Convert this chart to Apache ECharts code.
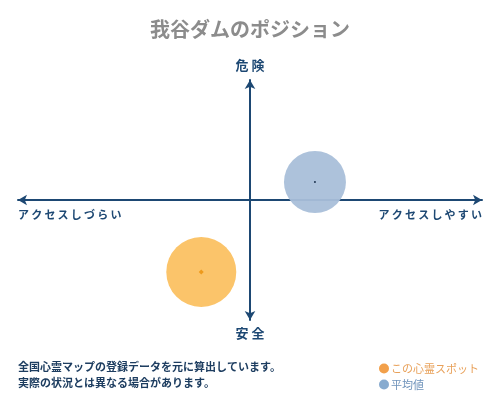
<!DOCTYPE html>
<html>
<head>
<meta charset="utf-8">
<script src="https://cdn.jsdelivr.net/npm/echarts@6/dist/echarts.min.js"></script>
<style>
html, body { margin: 0; padding: 0; background: #fff; }
#main { width: 500px; height: 400px; }
</style>
</head>
<body>
<div id="main"></div>
<script>
var chart = echarts.init(document.getElementById('main'));

// 横軸: アクセス(-100 しづらい … 100 しやすい), 縦軸: 危険度(-100 安全 … 100 危険)
var seriesNames = ['この心霊スポット', '平均値'];
var spotPoint = [[-21, -60]];
var averagePoint = [[28, 15]];
var xEndLabels = ['アクセスしづらい', 'アクセスしやすい'];
var yEndLabels = ['危険', '安全'];
var noteLines = ['全国心霊マップの登録データを元に算出しています。', '実際の状況とは異なる場合があります。'];

var FONT = '"Noto Sans CJK JP", sans-serif';
var NAVY = '#1d4873';

// 文字間を少し空ける
function spread(s, sp) {
    return s.split('').join(sp);
}

option = {
    title: {
        text: '我谷ダムのポジション',
        left: 'center',
        top: 14,
        textStyle: { color: '#8c8c8c', fontSize: 20, fontWeight: 'bold', fontFamily: FONT }
    },
    legend: {
        orient: 'vertical',
        left: 374,
        top: 358,
        itemWidth: 10,
        itemHeight: 10,
        itemGap: 5,
        icon: 'circle',
        data: [
            { name: seriesNames[0], itemStyle: { color: '#f2a04a' }, textStyle: { color: '#e8a15a' } },
            { name: seriesNames[1], itemStyle: { color: '#82a7cc' }, textStyle: { color: '#6f93bb' } }
        ],
        textStyle: { fontSize: 11, fontFamily: FONT, padding: [0, 0, 0, -3] }
    },
    grid: { left: 18, right: 18, top: 80, bottom: 80 },
    xAxis: {
        type: 'value',
        min: -100,
        max: 100,
        splitLine: { show: false },
        axisTick: { show: false },
        axisLabel: { show: false },
        axisLine: {
            onZero: true,
            symbol: ['arrow', 'arrow'],
            symbolSize: [8, 9],
            lineStyle: { color: NAVY, width: 2 }
        }
    },
    yAxis: {
        type: 'value',
        min: -100,
        max: 100,
        splitLine: { show: false },
        axisTick: { show: false },
        axisLabel: { show: false },
        axisLine: {
            onZero: true,
            symbol: ['arrow', 'arrow'],
            symbolSize: [8, 9],
            lineStyle: { color: NAVY, width: 2 }
        }
    },
    graphic: [
        {
            type: 'text', left: 'center', top: 59,
            style: { text: spread(yEndLabels[0], ' '), fill: NAVY, fontSize: 13, fontWeight: 'bold', fontFamily: FONT }
        },
        {
            type: 'text', left: 'center', top: 327,
            style: { text: spread(yEndLabels[1], ' '), fill: NAVY, fontSize: 13, fontWeight: 'bold', fontFamily: FONT }
        },
        {
            type: 'text', left: 18, top: 209,
            style: { text: spread(xEndLabels[0], '\u2009'), fill: NAVY, fontSize: 11, fontWeight: 'bold', fontFamily: FONT }
        },
        {
            type: 'text', right: 18, top: 209,
            style: { text: spread(xEndLabels[1], '\u2009'), fill: NAVY, fontSize: 11, fontWeight: 'bold', fontFamily: FONT }
        },
        {
            type: 'text', left: 18, top: 359,
            style: { text: noteLines.join('\n'), fill: '#1d3d60', fontSize: 11, lineHeight: 16, fontWeight: 'bold', fontFamily: FONT }
        }
    ],
    series: [
        {
            name: seriesNames[0],
            type: 'scatter',
            data: spotPoint,
            symbolSize: 70,
            itemStyle: { color: '#fbc46a', opacity: 1 },
            z: 3
        },
        {
            name: seriesNames[1],
            type: 'scatter',
            data: averagePoint,
            symbolSize: 62,
            itemStyle: { color: '#a9bfd9', opacity: 0.95 },
            z: 1
        },
        {
            name: 'spotCenter',
            type: 'scatter',
            data: spotPoint,
            symbolSize: 5,
            symbol: 'diamond',
            itemStyle: { color: '#ee9a1c', opacity: 1 },
            z: 4
        },
        {
            name: 'averageCenter',
            type: 'scatter',
            data: averagePoint,
            symbolSize: 2,
            itemStyle: { color: '#1d3350', opacity: 1 },
            z: 4
        }
    ]
};
chart.setOption(option);
</script>
</body>
</html>
